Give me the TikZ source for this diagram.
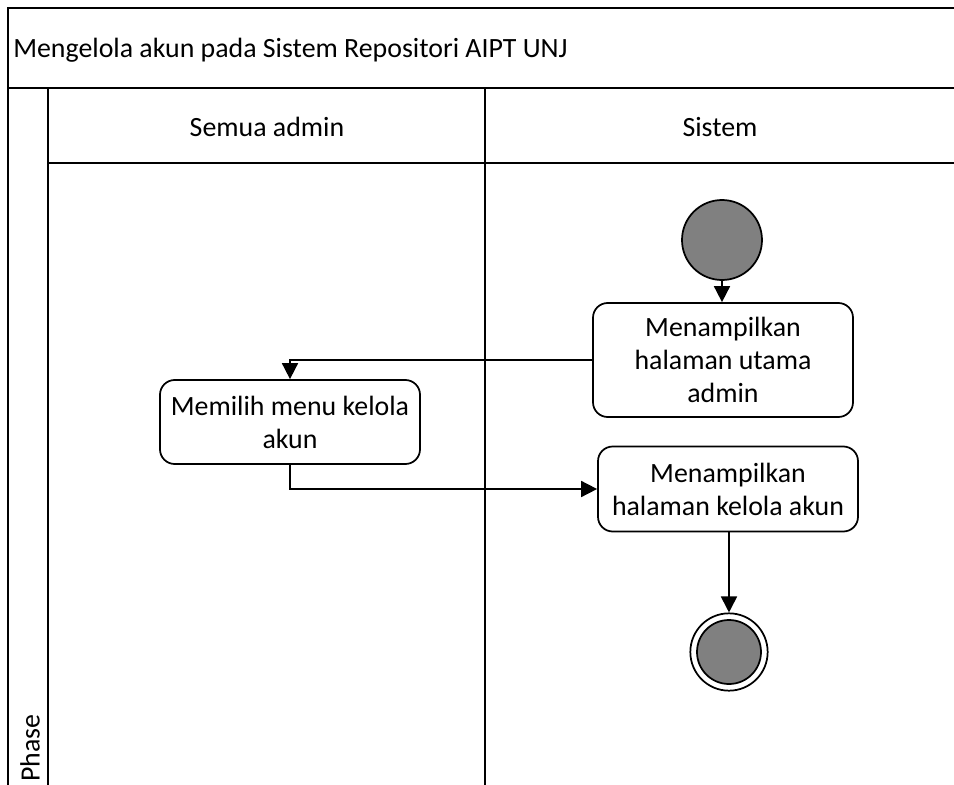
\documentclass[tikz,border=0pt]{standalone}
\usepackage{fontspec}
\setmainfont{Carlito}
\usepackage{tikz}
\usetikzlibrary{arrows.meta,positioning}
\definecolor{NodeGray}{HTML}{808080}

\begin{document}
\begin{tikzpicture}[
  x=0.75pt,y=-0.75pt,
  font=\fontsize{20.9}{24.8}\selectfont,
  lane/.style={draw=black,line width=1.3pt},
  act/.style={draw=black,line width=1.3pt,rounded corners=11pt,minimum width=195pt,align=center,inner sep=1pt},
  initnode/.style={circle,draw=black,line width=1.3pt,fill=NodeGray,minimum size=60pt,inner sep=0pt},
  finnode/.style={circle,draw=black,line width=1.3pt,minimum size=58pt,inner sep=0pt},
  flow/.style={-{Triangle[length=12pt,width=12pt]},draw=black,line width=1.3pt}
]
\useasboundingbox (0,0) rectangle (954,785);
% swimlane frame
\draw[lane] (954,8) -- (8,8) -- (8,785);
\draw[lane] (8,88) -- (954,88);
\draw[lane] (48,88) -- (48,785);
\draw[lane] (48,163) -- (954,163);
\draw[lane] (485,88) -- (485,785);
\node[anchor=west,inner sep=0pt] (title) at (13,50) {Mengelola akun pada Sistem Repositori AIPT UNJ};
\node (admin) at (267,127) {Semua admin};
\node (sistem) at (720,127) {Sistem};
\node[rotate=90,anchor=west,inner sep=0pt] (phase) at (30,782) {Phase};
% activities
\node[initnode] (start) at (722,240) {};
\node[act,minimum height=85.5pt] (home) at (723,360) {Menampilkan\\halaman utama\\admin};
\node[act,minimum height=63pt] (menu) at (290,422) {Memilih menu kelola\\akun};
\node[act,minimum height=63.75pt] (kelola) at (728,489) {Menampilkan\\halaman kelola akun};
\node[finnode] (fin) at (729,652) {};
\node[circle,draw=black,line width=1.3pt,fill=NodeGray,minimum size=48pt,inner sep=0pt] (finin) at (fin) {};
% flows
\draw[flow] (start.south) -- (start.south |- home.north);
\draw[flow] (home.west) -| (menu.north);
\draw[flow] (menu.south) |- (kelola.west);
\draw[flow] (kelola.south -| fin.north) -- (fin.north);
\end{tikzpicture}
\end{document}
